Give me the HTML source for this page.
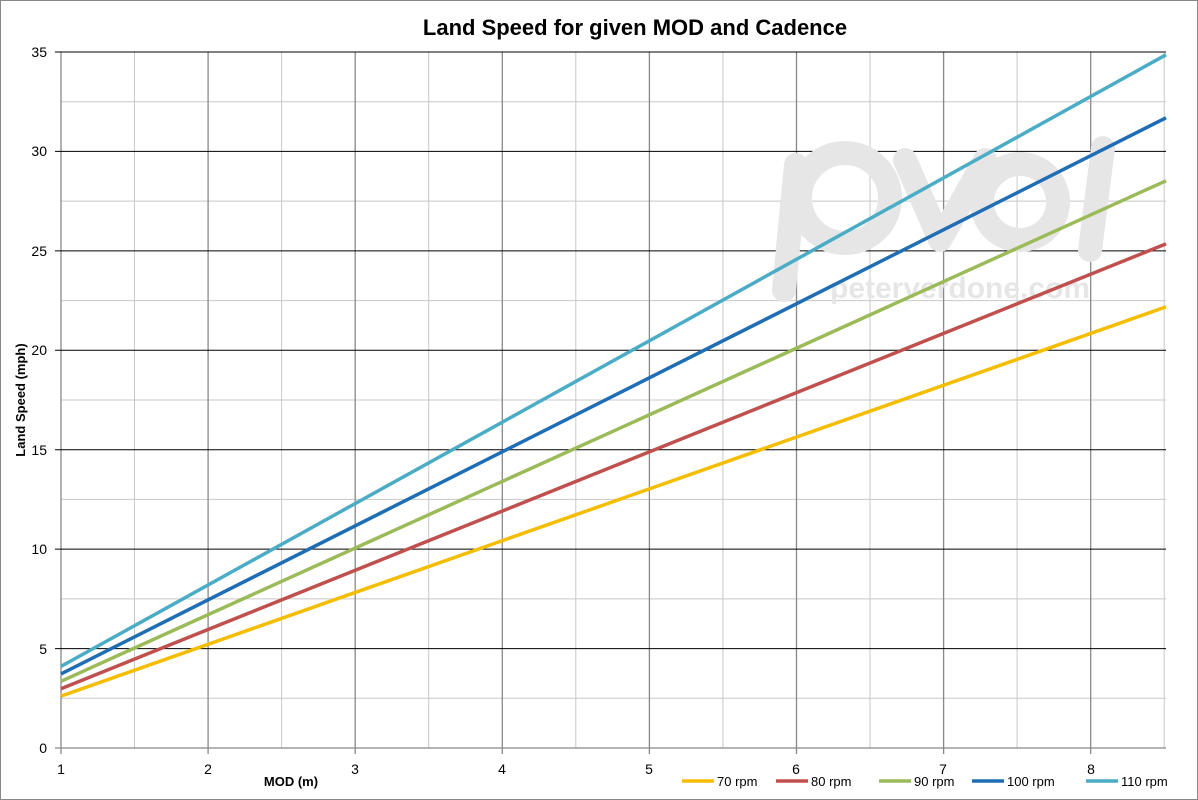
<!DOCTYPE html>
<html><head><meta charset="utf-8"><style>body{margin:0;background:#fff}svg{display:block}text{font-family:"Liberation Sans",sans-serif}</style></head><body>
<svg width="1198" height="800" viewBox="0 0 1198 800">
<rect x="0.5" y="0.5" width="1197" height="799" fill="#fff" stroke="#888"/>
<text x="635" y="35" text-anchor="middle" font-size="22" font-weight="bold">Land Speed for given MOD and Cadence</text>
<g stroke="#c8c8c8" stroke-width="1">
<line x1="134.5" y1="52" x2="134.5" y2="748"/><line x1="281.6" y1="52" x2="281.6" y2="748"/><line x1="428.7" y1="52" x2="428.7" y2="748"/><line x1="575.8" y1="52" x2="575.8" y2="748"/><line x1="722.9" y1="52" x2="722.9" y2="748"/><line x1="870" y1="52" x2="870" y2="748"/><line x1="1017.1" y1="52" x2="1017.1" y2="748"/><line x1="1164.2" y1="52" x2="1164.2" y2="748"/>
<line x1="61" y1="698.3" x2="1166" y2="698.3"/><line x1="61" y1="598.9" x2="1166" y2="598.9"/><line x1="61" y1="499.4" x2="1166" y2="499.4"/><line x1="61" y1="400" x2="1166" y2="400"/><line x1="61" y1="300.6" x2="1166" y2="300.6"/><line x1="61" y1="201.1" x2="1166" y2="201.1"/><line x1="61" y1="101.7" x2="1166" y2="101.7"/>
</g>
<g stroke="#888" stroke-width="1.3">
<line x1="208.1" y1="52" x2="208.1" y2="754"/><line x1="355.2" y1="52" x2="355.2" y2="754"/><line x1="502.3" y1="52" x2="502.3" y2="754"/><line x1="649.4" y1="52" x2="649.4" y2="754"/><line x1="796.5" y1="52" x2="796.5" y2="754"/><line x1="943.6" y1="52" x2="943.6" y2="754"/><line x1="1090.7" y1="52" x2="1090.7" y2="754"/>
<line x1="61" y1="52" x2="61" y2="754"/>
<line x1="55" y1="748" x2="1166" y2="748"/>
</g>
<g stroke="#000" stroke-width="1">
<line x1="55" y1="648.6" x2="1166" y2="648.6"/><line x1="55" y1="549.1" x2="1166" y2="549.1"/><line x1="55" y1="449.7" x2="1166" y2="449.7"/><line x1="55" y1="350.3" x2="1166" y2="350.3"/><line x1="55" y1="250.9" x2="1166" y2="250.9"/><line x1="55" y1="151.4" x2="1166" y2="151.4"/><line x1="55" y1="52" x2="1166" y2="52"/>
</g>
<g font-size="14" text-anchor="end">
<text x="47" y="753">0</text><text x="47" y="654">5</text><text x="47" y="554">10</text><text x="47" y="455">15</text><text x="47" y="355">20</text><text x="47" y="256">25</text><text x="47" y="156">30</text><text x="47" y="57">35</text>
</g>
<g font-size="14" text-anchor="middle">
<text x="61" y="774">1</text><text x="208" y="774">2</text><text x="355" y="774">3</text><text x="502" y="774">4</text><text x="649" y="774">5</text><text x="796" y="774">6</text><text x="943" y="774">7</text><text x="1091" y="774">8</text>
</g>
<text x="291" y="786" text-anchor="middle" font-size="13" font-weight="bold">MOD (m)</text>
<text transform="translate(25,400) rotate(-90)" text-anchor="middle" font-size="13" font-weight="bold">Land Speed (mph)</text>
<g fill="none" stroke="#e6e6e6" stroke-width="24" stroke-linecap="round" stroke-linejoin="round">
<path d="M784 290 L796 165"/>
<ellipse cx="845" cy="198" rx="45" ry="45"/>
<path d="M905 160 L940 240 L985 160"/>
<ellipse cx="1020" cy="202" rx="38" ry="38"/>
<path d="M1103 148 L1090 250"/>
</g>
<text x="830" y="298" font-size="30" font-weight="bold" fill="#e6e6e6">peterverdone.com</text>
<g stroke-width="3.5" fill="none">
<line x1="61" y1="696.1" x2="1166" y2="306.9" stroke="#f5bd00"/>
<line x1="61" y1="688.7" x2="1166" y2="243.9" stroke="#c0504d"/>
<line x1="61" y1="681.3" x2="1166" y2="180.8" stroke="#9bbb59"/>
<line x1="61" y1="673.9" x2="1166" y2="117.8" stroke="#1f6eb5"/>
<line x1="61" y1="666.4" x2="1166" y2="54.8" stroke="#4bacc6"/>
</g>
<g font-size="13">
<line x1="682" y1="781" x2="714" y2="781" stroke="#f5bd00" stroke-width="3.5"/><text x="717" y="786">70 rpm</text>
<line x1="776" y1="781" x2="808" y2="781" stroke="#c0504d" stroke-width="3.5"/><text x="811" y="786">80 rpm</text>
<line x1="879" y1="781" x2="911" y2="781" stroke="#9bbb59" stroke-width="3.5"/><text x="914" y="786">90 rpm</text>
<line x1="972" y1="781" x2="1004" y2="781" stroke="#1f6eb5" stroke-width="3.5"/><text x="1007" y="786">100 rpm</text>
<line x1="1086" y1="781" x2="1118" y2="781" stroke="#4bacc6" stroke-width="3.5"/><text x="1121" y="786">110 rpm</text>
</g>
</svg>
</body></html>
